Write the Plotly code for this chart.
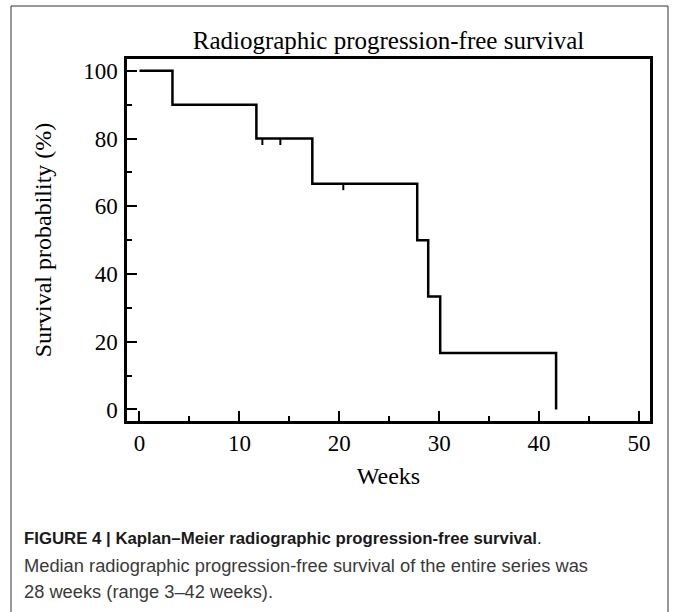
import plotly.graph_objects as go

# Kaplan-Meier step data (weeks, survival %)
step_weeks = [0, 3.3, 11.7, 17.3, 27.8, 28.9, 30.1, 41.7, 41.7]
step_surv = [100, 90, 80, 66.67, 50, 33.33, 16.67, 16.67, 0]
# censored observations
censor_weeks = [12.3, 14.1, 20.4]
censor_surv = [80, 80, 66.67]

title_text = "Radiographic progression-free survival"
x_title = "Weeks"
y_title = "Survival probability (%)"
y_ticks = [0, 20, 40, 60, 80, 100]
x_ticks = [0, 10, 20, 30, 40, 50]
caption_bold = "FIGURE 4 | Kaplan–Meier radiographic progression-free survival"
caption_l2 = "Median radiographic progression-free survival of the entire series was"
caption_l3 = "28 weeks (range 3–42 weeks)."

W, H = 673, 612
L, R, T, B = 127, 650, 59, 421

def px(xp):
    return (xp - L) / (R - L)

def py(yp):
    return (B - yp) / (B - T)

fig = go.Figure()
fig.add_trace(go.Scatter(x=step_weeks, y=step_surv, mode="lines", line_shape="hv",
                         line=dict(color="black", width=2.5), showlegend=False, hoverinfo="skip"))

cx, cy = [], []
for w, s in zip(censor_weeks, censor_surv):
    cx += [w, w, None]
    cy += [s, s - 1.9, None]
fig.add_trace(go.Scatter(x=cx, y=cy, mode="lines", line=dict(color="black", width=2),
                         showlegend=False, hoverinfo="skip"))

serif = "Liberation Serif, Times New Roman, serif"
sans = "Liberation Sans Narrow, Arial Narrow, Liberation Sans, Arial, sans-serif"

fig.update_layout(
    width=W, height=H,
    margin=dict(l=L, r=W - R, t=T, b=H - B, autoexpand=False),
    paper_bgcolor="white", plot_bgcolor="white",
    title=dict(text=title_text, x=0.5, xref="paper", xanchor="center",
               y=1 - 40 / H, yref="container", yanchor="middle",
               font=dict(family=serif, size=25, color="black")),
    xaxis=dict(range=[-1.25, 51.1], tickvals=x_ticks, showgrid=False, zeroline=False,
               showline=True, linecolor="black", linewidth=2.5, mirror=True,
               ticks="inside", ticklen=10, tickwidth=2, tickcolor="black",
               ticklabelstandoff=0,
               tickfont=dict(family=serif, size=23, color="black"),
               minor=dict(dtick=5, tick0=0, ticks="inside", ticklen=5, tickwidth=2, tickcolor="black", showgrid=False),
               title=dict(text=x_title, font=dict(family=serif, size=24, color="black"), standoff=12)),
    yaxis=dict(range=[-3.4, 103.5], tickvals=y_ticks, showgrid=False, zeroline=False,
               showline=True, linecolor="black", linewidth=2.5, mirror=True,
               ticks="inside", ticklen=10, tickwidth=2, tickcolor="black",
               ticklabelstandoff=2,
               tickfont=dict(family=serif, size=23, color="black"),
               minor=dict(dtick=10, tick0=0, ticks="inside", ticklen=5, tickwidth=2, tickcolor="black", showgrid=False),
               title=dict(text=y_title, font=dict(family=serif, size=24, color="black"), standoff=25)),
    shapes=[dict(type="rect", xref="paper", yref="paper",
                 x0=px(11), x1=px(668), y0=py(630), y1=py(6),
                 line=dict(color="#333333", width=1), fillcolor="rgba(0,0,0,0)", layer="below")],
    annotations=[
        dict(text="<b>" + caption_bold + "</b>.", xref="paper", yref="paper", x=px(22), y=py(538),
             xanchor="left", yanchor="middle", showarrow=False,
             font=dict(family=sans, size=16.8, color="#1a1a1a")),
        dict(text=caption_l2, xref="paper", yref="paper", x=px(22), y=py(565),
             xanchor="left", yanchor="middle", showarrow=False,
             font=dict(family=sans, size=18.3, color="#3a3a3a")),
        dict(text=caption_l3, xref="paper", yref="paper", x=px(22), y=py(591),
             xanchor="left", yanchor="middle", showarrow=False,
             font=dict(family=sans, size=18.3, color="#3a3a3a")),
    ],
)

fig.write_html("out.html", config={"displayModeBar": False},
               post_script="document.body.style.margin='0';document.body.style.padding='0';")
